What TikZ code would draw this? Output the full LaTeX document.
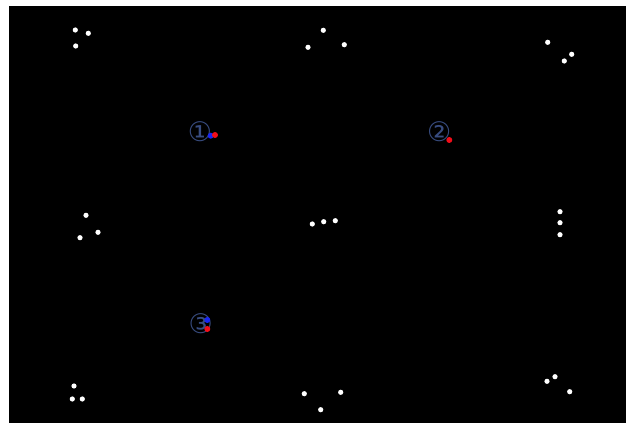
\documentclass[tikz,border=0pt]{standalone}
\usepackage{fontspec}
\newfontfamily\symfont{DejaVu Sans}
\begin{document}
\begin{tikzpicture}[x=0.3mm,y=-0.3mm,line join=round, line cap=round]
				\definecolor{slateblue}{rgb}{0.22, 0.30, 0.50}
				\definecolor{dotred}{rgb}{0.95, 0.05, 0.10}
				\definecolor{dotblue}{rgb}{0.10, 0.15, 0.95}
				\tikzset{
					marker/.style={circle,inner sep=0pt,font=\symfont\fontsize{23}{23}\selectfont,text=slateblue},
				}
				\useasboundingbox (0,0) rectangle (634,423);
				\fill[white] (0,0) rectangle (634,423);
				\fill[black] (9,6) rectangle (626,423);
				
				% white points
				\foreach \i/\j in{75.3/30,88.3/33.3,75.7/46,
					323.3/30.3,308/47.3,344.3/44.7,
					547.7/42.3,571.7/54.3,564.3/61,
					86/215.3,98/232.3,80/237.7,
					312.3/224,323.7/221.7,335.3/220.7,
					560/211.7,560/222.7,560/234.7,
					74/386,72.3/399,82.3/399,
					304.3/393.7,340.7/392.3,320.7/409.7,
					547/381.3,555/376.7,569.7/391.7}{
					\fill[white] (\i,\j) circle (2.6);
				}
				
				% numbered markers
				\node[marker] (m1) at (200,131.7) {①};
				\node[marker] (m2) at (439.3,131.7) {②};
				\node[marker] (m3) at (200.7,324) {③};
				
				\fill[dotblue] (210.7,135.7) circle (3);
				\fill[dotred] (215,135) circle (3);
				\fill[dotred] (449.3,140) circle (3);
				\fill[dotblue] (207.3,320) circle (3);
				\fill[dotred] (207.3,329) circle (3);
			\end{tikzpicture}
\end{document}
